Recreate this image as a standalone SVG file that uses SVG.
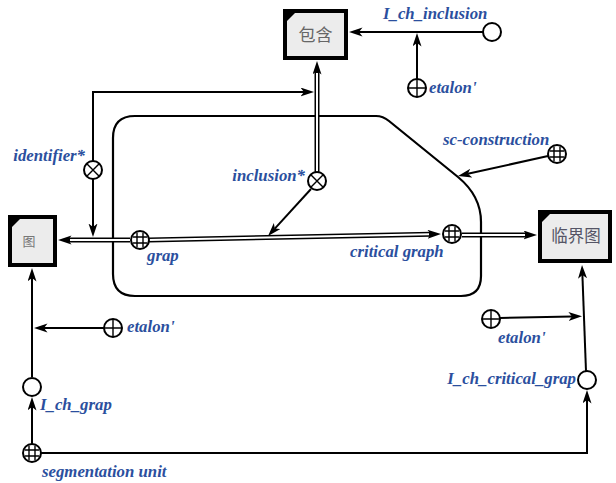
<svg xmlns="http://www.w3.org/2000/svg" width="616" height="483" viewBox="0 0 616 483">
<style>
.ln{fill:none;stroke:#000;stroke-width:2}
.dbo{fill:none;stroke:#000;stroke-width:5}
.dbi{fill:none;stroke:#fff;stroke-width:2}
.box{fill:#ececec;stroke:#000;stroke-width:4}
.cjk{font-family:"Noto Sans CJK SC","Noto Sans",sans-serif;text-anchor:middle}
.lbl{font-family:"Liberation Serif",serif;font-weight:bold;font-style:italic;font-size:16.8px;fill:#2b4f9e}
.nc{fill:#fff;stroke:#000;stroke-width:2}
.nl{stroke:#000;stroke-width:1.4;fill:none}
</style>
<defs>
<marker id="a" markerUnits="userSpaceOnUse" markerWidth="14" markerHeight="10" viewBox="0 0 14 10" refX="3.5" refY="4.5" orient="auto">
<path d="M0,0 L13.5,4.5 L0,9 L3.5,4.5 z" fill="#000"/>
</marker>
<g id="grid"><circle r="9" class="nc"/><path class="nl" d="M-3,-7.4V7.4M3,-7.4V7.4M-7.4,-3H7.4M-7.4,3H7.4"/></g>
<g id="cross"><circle r="9" class="nc"/><path class="nl" d="M-6.2,-6.2L6.2,6.2M6.2,-6.2L-6.2,6.2"/></g>
<g id="plus"><circle r="9" class="nc"/><path class="nl" d="M0,-9V9M-9,0H9"/></g>
<g id="ring"><circle r="9" class="nc"/></g>
<path id="corner" d="M0,0 H8 L0,8 z" fill="#000"/>
</defs>

<g id="contour">
<path d="M113,138 Q113,116 135,116 L376,116 Q383,116 389,121 L458,177 Q481,196 481,222 L481,276 Q481,296 461,296 L135,296 Q113,296 113,274 Z" fill="none" stroke="#000" stroke-width="2.2"/>
</g>

<g id="connectors">
<path class="ln" d="M483,32 H359" marker-end="url(#a)"/>
<path class="ln" d="M417,79 V43" marker-end="url(#a)"/>
<path class="dbo" d="M130,240 H68" marker-end="url(#a)"/>
<path class="dbi" d="M131,240 H70"/>
<path class="dbo" d="M317,172 V71" marker-end="url(#a)"/>
<path class="dbi" d="M317,173 V73"/>
<path class="ln" d="M93,161 V92 H304" marker-end="url(#a)"/>
<path class="ln" d="M93,179 V227" marker-end="url(#a)"/>
<path class="ln" d="M311,189 L274.8,228.6" marker-end="url(#a)"/>
<path class="dbo" d="M149,240 L431,234.2" marker-end="url(#a)"/>
<path class="dbi" d="M148,240 L429,234.2"/>
<path class="dbo" d="M462,235 H527" marker-end="url(#a)"/>
<path class="dbi" d="M461,235 H525"/>
<path class="ln" d="M548,156 L467.8,173.8" marker-end="url(#a)"/>
<path class="ln" d="M104,328 H44" marker-end="url(#a)"/>
<path class="ln" d="M32,377 V278" marker-end="url(#a)"/>
<path class="ln" d="M32,444 V407" marker-end="url(#a)"/>
<path class="ln" d="M41,453 H587 V400" marker-end="url(#a)"/>
<path class="ln" d="M586,371 L582.4,275" marker-end="url(#a)"/>
<path class="ln" d="M500,318 L572,316.5" marker-end="url(#a)"/>
</g>

<g id="n-baohan">
<rect class="box" x="285" y="11" width="61" height="47"/>
<use href="#corner" x="287" y="13"/>
<text class="cjk" x="315.5" y="41" font-size="17" fill="#666">包含</text>
</g>
<g id="n-tu">
<rect class="box" x="10" y="217" width="45" height="48"/>
<use href="#corner" x="12" y="219"/>
<text class="cjk" x="29" y="246" font-size="13" fill="#777">图</text>
</g>
<g id="n-linjietu">
<rect class="box" x="540" y="212" width="70" height="49"/>
<use href="#corner" x="542" y="214"/>
<text class="cjk" x="576" y="242" font-size="16.5" fill="#556">临界图</text>
</g>

<g id="n-I_ch_inclusion"><use href="#ring" x="492" y="32"/><text class="lbl" x="383" y="19">I_ch_inclusion</text></g>
<g id="n-etalon1"><use href="#plus" x="417" y="88"/><text class="lbl" x="429" y="93">etalon'</text></g>
<g id="n-identifier"><use href="#cross" x="93" y="170"/><text class="lbl" x="85" y="161" text-anchor="end">identifier*</text></g>
<g id="n-inclusion"><use href="#cross" x="317" y="181"/><text class="lbl" x="305" y="181" text-anchor="end">inclusion*</text></g>
<g id="n-grap"><use href="#grid" x="140" y="240"/><text class="lbl" x="147" y="261">grap</text></g>
<g id="n-critical"><use href="#grid" x="452" y="234"/><text class="lbl" x="350" y="257">critical graph</text></g>
<g id="n-sc"><use href="#grid" x="557" y="154"/><text class="lbl" x="443" y="145">sc-construction</text></g>
<g id="n-etalon2"><use href="#plus" x="113" y="328"/><text class="lbl" x="127" y="332">etalon'</text></g>
<g id="n-I_ch_grap"><use href="#ring" x="32" y="387"/><text class="lbl" x="40" y="410">I_ch_grap</text></g>
<g id="n-seg"><use href="#grid" x="32" y="453"/><text class="lbl" x="42" y="477">segmentation unit</text></g>
<g id="n-etalon3"><use href="#plus" x="491" y="319"/><text class="lbl" x="498" y="343">etalon'</text></g>
<g id="n-I_ch_critical"><use href="#ring" x="587" y="380"/><text class="lbl" x="576" y="384" text-anchor="end">I_ch_critical_grap</text></g>
</svg>
